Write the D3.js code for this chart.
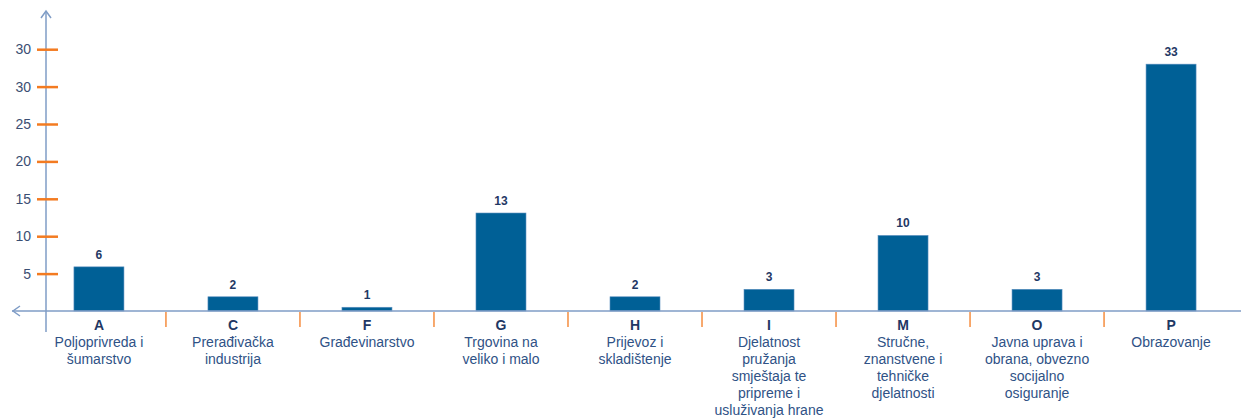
<!DOCTYPE html>
<html><head><meta charset="utf-8">
<script src="https://cdn.jsdelivr.net/npm/d3@7"></script>
<style>body{margin:0;background:#fff}svg{display:block;font-family:"Liberation Sans",Arial,sans-serif}</style>
</head><body>
<svg id="c" width="1241" height="418"></svg>
<script>
const codes = ["A","C","F","G","H","I","M","O","P"];
const descriptions = [
  ["Poljoprivreda i","šumarstvo"],
  ["Prerađivačka","industrija"],
  ["Građevinarstvo"],
  ["Trgovina  na","veliko i malo"],
  ["Prijevoz i","skladištenje"],
  ["Djelatnost","pružanja","smještaja te","pripreme i","usluživanja hrane"],
  ["Stručne,","znanstvene i","tehničke","djelatnosti"],
  ["Javna uprava i","obrana, obvezno","socijalno","osiguranje"],
  ["Obrazovanje"]
];
const values = [5.9, 1.9, 0.5, 13.1, 1.9, 2.9, 10.1, 2.9, 33.0];
const tickValues = [5, 10, 15, 20, 25, 30, 35];
const tickLabels = ["5", "10", "15", "20", "25", "30", "30"];

const svg = d3.select("#c");
const baseY = 311, axisX = 46;
const x = d3.scaleBand().domain(codes).range([32, 1238]).paddingInner(0.627).paddingOuter(0.313);
const y = d3.scaleLinear().domain([0, 35]).range([baseY, baseY - 35 * 7.48]);
const axisCol = "#7f9cc6", orange = "#f37b21";

// bars
svg.selectAll("rect.bar").data(values).join("rect")
  .attr("x", (d, i) => x(codes[i]) + x.bandwidth()/2 - 25)
  .attr("width", 50)
  .attr("y", d => y(d)).attr("height", d => baseY - y(d))
  .attr("fill", "#006096").attr("stroke", "#5b8fbf").attr("stroke-width", 0.6);

// value labels
svg.selectAll("text.val").data(values).join("text")
  .attr("x", (d, i) => x(codes[i]) + x.bandwidth()/2)
  .attr("y", d => y(d) - 8)
  .attr("text-anchor", "middle").attr("font-size", 12).attr("font-weight", "bold")
  .attr("fill", "#1f3864").text(d => Math.round(d));

// horizontal axis
svg.append("line").attr("x1", 12).attr("x2", 1241).attr("y1", baseY).attr("y2", baseY)
  .attr("stroke", axisCol).attr("stroke-width", 1.5);
svg.append("path").attr("d", `M20,${baseY-5} L13,${baseY} L20,${baseY+5}`)
  .attr("fill", "none").attr("stroke", axisCol).attr("stroke-width", 1.5);
// vertical axis
svg.append("line").attr("x1", axisX).attr("x2", axisX).attr("y1", 11).attr("y2", 332)
  .attr("stroke", axisCol).attr("stroke-width", 1.5);
svg.append("path").attr("d", `M${axisX-5},18 L${axisX},11 L${axisX+5},18`)
  .attr("fill", "none").attr("stroke", axisCol).attr("stroke-width", 1.5);

// y ticks
const yAxis = d3.axisLeft(y).tickValues(tickValues).tickSize(0).tickFormat((d, i) => tickLabels[i]);
const yg = svg.append("g").attr("transform", `translate(${axisX},0)`).call(yAxis);
yg.select(".domain").remove();
yg.selectAll(".tick text").attr("x", -15).attr("font-size", 14).attr("fill", "#3a4e73")
  .attr("font-family", "Liberation Sans, Arial, sans-serif");
yg.selectAll(".tick").append("line").attr("x1", -9).attr("x2", 12)
  .attr("stroke", orange).attr("stroke-width", 2.5);

// category separators
svg.selectAll("line.sep").data(codes.slice(1)).join("line")
  .attr("x1", d => x(d) - x.step()*x.paddingInner()/2).attr("x2", d => x(d) - x.step()*x.paddingInner()/2)
  .attr("y1", baseY + 1).attr("y2", baseY + 16)
  .attr("stroke", orange).attr("stroke-width", 1.3);

// category letters
svg.selectAll("text.code").data(codes).join("text")
  .attr("x", d => x(d) + x.bandwidth()/2).attr("y", 330)
  .attr("text-anchor", "middle").attr("font-size", 14).attr("font-weight", "bold")
  .attr("fill", "#1f3864").text(d => d);

// descriptions
const dg = svg.selectAll("text.desc").data(descriptions).join("text")
  .attr("text-anchor", "middle").attr("font-size", 14).attr("fill", "#2f5286")
  .attr("x", (d, i) => x(codes[i]) + x.bandwidth()/2).attr("y", 347);
dg.selectAll("tspan").data(d => d).join("tspan")
  .attr("x", function() { return this.parentNode.getAttribute("x"); })
  .attr("dy", (d, j) => j === 0 ? 0 : 17).text(d => d);
</script>
</body></html>
